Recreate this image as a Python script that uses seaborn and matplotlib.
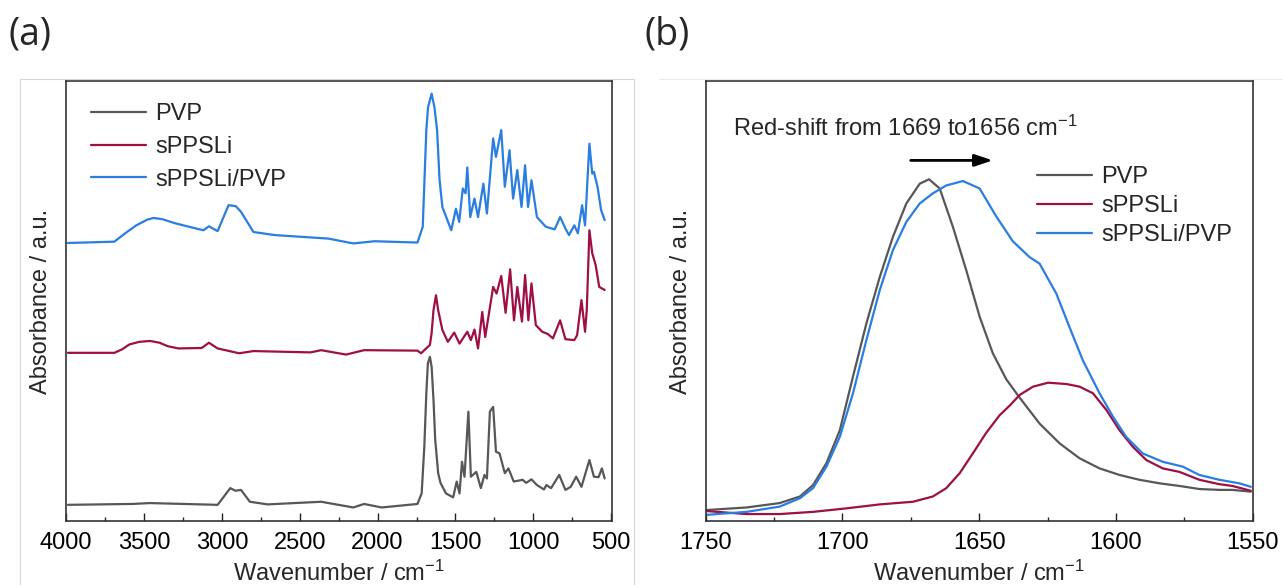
import numpy as np
import pandas as pd
import matplotlib
matplotlib.use("Agg")
import matplotlib.pyplot as plt
from matplotlib.ticker import MultipleLocator
from matplotlib.lines import Line2D
import seaborn as sns

# ---------------- data (a): full FTIR spectra, stacked ----------------
pvp_wn_a = [3988, 3576, 3461, 3027, 2980, 2946, 2912, 2877, 2820, 2706, 2362, 2156, 2087,
            1973, 1744, 1717, 1700, 1687, 1677, 1664, 1653, 1641, 1630, 1611, 1596, 1561,
            1515, 1492, 1474, 1458, 1442, 1417, 1401, 1366, 1337, 1314, 1298, 1279, 1258,
            1240, 1217, 1183, 1160, 1126, 1069, 1046, 1012, 977, 932, 916, 886, 834, 794,
            760, 725, 691, 640, 611, 581, 560, 542]
pvp_abs_a = [0.036, 0.038, 0.040, 0.036, 0.058, 0.074, 0.068, 0.070, 0.043, 0.037, 0.043,
             0.030, 0.038, 0.030, 0.038, 0.062, 0.168, 0.290, 0.358, 0.373, 0.350, 0.275,
             0.184, 0.108, 0.086, 0.062, 0.053, 0.089, 0.062, 0.134, 0.100, 0.248, 0.100,
             0.111, 0.074, 0.104, 0.096, 0.248, 0.259, 0.157, 0.153, 0.108, 0.119, 0.089,
             0.093, 0.086, 0.094, 0.081, 0.071, 0.081, 0.074, 0.104, 0.070, 0.077, 0.100,
             0.077, 0.138, 0.100, 0.099, 0.119, 0.096]

sppsli_wn_a = [3988, 3690, 3640, 3594, 3530, 3461, 3400, 3347, 3278, 3129, 3083, 3027, 2889,
               2797, 2431, 2362, 2202, 2087, 1744, 1721, 1664, 1653, 1641, 1625, 1611, 1584,
               1549, 1508, 1474, 1424, 1401, 1378, 1355, 1328, 1309, 1258, 1236, 1206, 1178,
               1149, 1124, 1103, 1073, 1053, 1032, 1012, 984, 943, 908, 874, 828, 794, 737,
               719, 691, 668, 657, 640, 622, 600, 577, 542]
sppsli_abs_a = [0.382, 0.382, 0.390, 0.401, 0.407, 0.409, 0.405, 0.397, 0.392, 0.393, 0.405,
                0.392, 0.381, 0.386, 0.383, 0.388, 0.378, 0.388, 0.387, 0.381, 0.400, 0.427,
                0.479, 0.513, 0.479, 0.434, 0.407, 0.428, 0.403, 0.430, 0.411, 0.435, 0.392,
                0.475, 0.418, 0.532, 0.517, 0.557, 0.473, 0.572, 0.456, 0.532, 0.453, 0.559,
                0.456, 0.540, 0.445, 0.430, 0.425, 0.415, 0.456, 0.413, 0.411, 0.422, 0.502,
                0.430, 0.479, 0.661, 0.609, 0.582, 0.532, 0.525]

blend_wn_a = [3988, 3690, 3621, 3550, 3480, 3438, 3380, 3301, 3200, 3118, 3083, 3027, 2957,
              2911, 2877, 2797, 2660, 2316, 2156, 2019, 1744, 1710, 1699, 1687, 1676, 1653,
              1635, 1618, 1602, 1584, 1527, 1497, 1476, 1453, 1435, 1424, 1405, 1378, 1355,
              1321, 1298, 1258, 1240, 1206, 1183, 1153, 1130, 1103, 1076, 1053, 1034, 1012,
              977, 920, 863, 828, 794, 771, 737, 714, 687, 668, 640, 622, 611, 588, 565, 542]
blend_abs_a = [0.632, 0.635, 0.654, 0.672, 0.685, 0.689, 0.686, 0.677, 0.668, 0.661, 0.670,
               0.659, 0.718, 0.716, 0.703, 0.657, 0.650, 0.642, 0.631, 0.636, 0.633, 0.669,
               0.775, 0.889, 0.941, 0.972, 0.941, 0.889, 0.775, 0.714, 0.661, 0.710, 0.680,
               0.756, 0.745, 0.804, 0.691, 0.733, 0.691, 0.767, 0.699, 0.870, 0.828, 0.889,
               0.760, 0.843, 0.733, 0.798, 0.714, 0.809, 0.714, 0.775, 0.691, 0.669, 0.663,
               0.691, 0.665, 0.650, 0.672, 0.654, 0.718, 0.672, 0.858, 0.790, 0.794, 0.760,
               0.707, 0.684]

# ---------------- data (b): amide I region ----------------
pvp_wn_b = [1750, 1735, 1722.9, 1715.5, 1710.7, 1705.8, 1700.9, 1696.1, 1691.2, 1686.3,
            1681.5, 1676.6, 1671.7, 1668.3, 1664.4, 1659.6, 1654.7, 1649.8, 1645, 1640.1,
            1635.2, 1627.9, 1620.6, 1613.3, 1606, 1598.7, 1591.4, 1584.1, 1576.8, 1569.5,
            1562.2, 1557.4, 1550.7]
pvp_abs_b = [0.024, 0.030, 0.040, 0.055, 0.081, 0.131, 0.206, 0.328, 0.449, 0.555, 0.646,
             0.722, 0.767, 0.777, 0.756, 0.669, 0.570, 0.464, 0.381, 0.322, 0.280, 0.221,
             0.176, 0.142, 0.119, 0.104, 0.093, 0.085, 0.079, 0.072, 0.070, 0.070, 0.066]

sppsli_wn_b = [1750, 1735, 1722.9, 1710.7, 1698.5, 1686.3, 1674.2, 1666.9, 1662, 1657.1,
               1652.3, 1647.4, 1642.5, 1638.8, 1635.2, 1630.3, 1624.8, 1618.1, 1613.3,
               1608.4, 1603.5, 1598.7, 1593.8, 1588.9, 1582.9, 1576.8, 1569.5, 1562.2,
               1557.4, 1550.7]
sppsli_abs_b = [0.022, 0.015, 0.015, 0.020, 0.028, 0.037, 0.043, 0.055, 0.074, 0.108, 0.153,
                0.200, 0.240, 0.262, 0.286, 0.305, 0.314, 0.311, 0.305, 0.290, 0.252, 0.206,
                0.168, 0.138, 0.119, 0.111, 0.093, 0.083, 0.079, 0.068]

blend_wn_b = [1750, 1735, 1722.9, 1715.5, 1710.7, 1705.8, 1700.9, 1696.1, 1691.2, 1686.3,
              1681.5, 1676.6, 1671.7, 1666.9, 1662, 1655.9, 1649.8, 1643.8, 1637.7, 1631.6,
              1627.9, 1621.8, 1617, 1612.1, 1606, 1601.1, 1596.3, 1590.2, 1582.9, 1575.6,
              1569.5, 1562.2, 1554.9, 1550.7]
blend_abs_b = [0.013, 0.020, 0.032, 0.051, 0.074, 0.123, 0.191, 0.290, 0.411, 0.525, 0.616,
               0.680, 0.722, 0.745, 0.763, 0.773, 0.756, 0.693, 0.636, 0.600, 0.585, 0.517,
               0.441, 0.365, 0.290, 0.237, 0.191, 0.153, 0.134, 0.123, 0.104, 0.093, 0.085,
               0.077]

names = ["PVP", "sPPSLi", "sPPSLi/PVP"]
colors = {"PVP": "#575757", "sPPSLi": "#9e0f46", "sPPSLi/PVP": "#2a7de1"}


def to_frame(wns, vals):
    parts = []
    for n, w, v in zip(names, wns, vals):
        parts.append(pd.DataFrame({"wn": w, "abs": v, "sample": n}))
    return pd.concat(parts, ignore_index=True)


df_a = to_frame([pvp_wn_a, sppsli_wn_a, blend_wn_a], [pvp_abs_a, sppsli_abs_a, blend_abs_a])
df_b = to_frame([pvp_wn_b, sppsli_wn_b, blend_wn_b], [pvp_abs_b, sppsli_abs_b, blend_abs_b])

sns.set_theme(style="white")
plt.rcParams["font.family"] = ["Liberation Sans", "DejaVu Sans"]
plt.rcParams["mathtext.fontset"] = "custom"
plt.rcParams["mathtext.rm"] = "Liberation Sans"
plt.rcParams["mathtext.default"] = "regular"

fs = 17
fig = plt.figure(figsize=(12.83, 5.85), dpi=100)
ax1 = fig.add_axes([0.0515, 0.110, 0.4255, 0.751])
ax2 = fig.add_axes([0.5499, 0.110, 0.4265, 0.751])

# faint slide frames
grey = "#d6d6d6"
fig.add_artist(Line2D([20 / 1283, 634 / 1283], [1 - 79 / 585] * 2, color=grey, lw=0.8))
fig.add_artist(Line2D([20 / 1283] * 2, [0, 1 - 79 / 585], color=grey, lw=0.8))
fig.add_artist(Line2D([634 / 1283] * 2, [0, 1 - 79 / 585], color=grey, lw=0.8))
fig.add_artist(Line2D([659 / 1283, 1.0], [1 - 79 / 585] * 2, color="#ececec", lw=0.8))

for ax, df, xlim, major, minor in [(ax1, df_a, (4000, 495), 500, 250),
                                   (ax2, df_b, (1750, 1550), 50, 25)]:
    sns.lineplot(data=df, x="wn", y="abs", hue="sample", hue_order=names,
                 palette=colors, estimator=None, lw=1.6, ax=ax)
    ax.set_xlim(*xlim)
    ax.set_ylim(0, 1)
    ax.xaxis.set_major_locator(MultipleLocator(major))
    ax.xaxis.set_minor_locator(MultipleLocator(minor))
    ax.set_yticks([])
    ax.tick_params(axis="x", which="both", direction="in", top=False, bottom=True,
                   labelsize=fs, pad=8, colors="#222222", labelcolor="black")
    ax.tick_params(axis="x", which="major", length=5.5, width=1.0)
    ax.tick_params(axis="x", which="minor", length=3, width=1.0)
    for s in ax.spines.values():
        s.set_color("#333333")
        s.set_linewidth(1.2)
    ax.set_xlabel("Wavenumber / cm$^{-1}$", fontsize=fs, labelpad=5)
    ax.set_ylabel("Absorbance / a.u.", fontsize=fs, labelpad=10)

ax1.legend(loc="upper left", bbox_to_anchor=(0.045, 0.95), frameon=False, fontsize=fs,
           handlelength=2.35, handletextpad=0.4, labelspacing=0.45, borderpad=0,
           borderaxespad=0)
ax2.legend(loc="upper left", bbox_to_anchor=(0.605, 0.807), frameon=False, fontsize=fs,
           handlelength=2.35, handletextpad=0.4, labelspacing=0.3, borderpad=0,
           borderaxespad=0)

ax2.text(0.05, 0.893, "Red-shift from 1669 to1656 cm$^{\u22121}$", transform=ax2.transAxes,
         fontsize=fs, va="center", ha="left")
ax2.annotate("", xy=(1645, 0.82), xytext=(1675, 0.82),
             arrowprops=dict(arrowstyle="-|>,head_length=0.9,head_width=0.3",
                             color="black", lw=2, shrinkA=0, shrinkB=0))

fig.text(9 / 1283, 1 - 35 / 585, "(a)", fontsize=27, family=["Open Sans", "DejaVu Sans"],
         va="center", ha="left")
fig.text(645 / 1283, 1 - 35 / 585, "(b)", fontsize=27, family=["Open Sans", "DejaVu Sans"],
         va="center", ha="left")

fig.savefig("out.png", dpi=100)
